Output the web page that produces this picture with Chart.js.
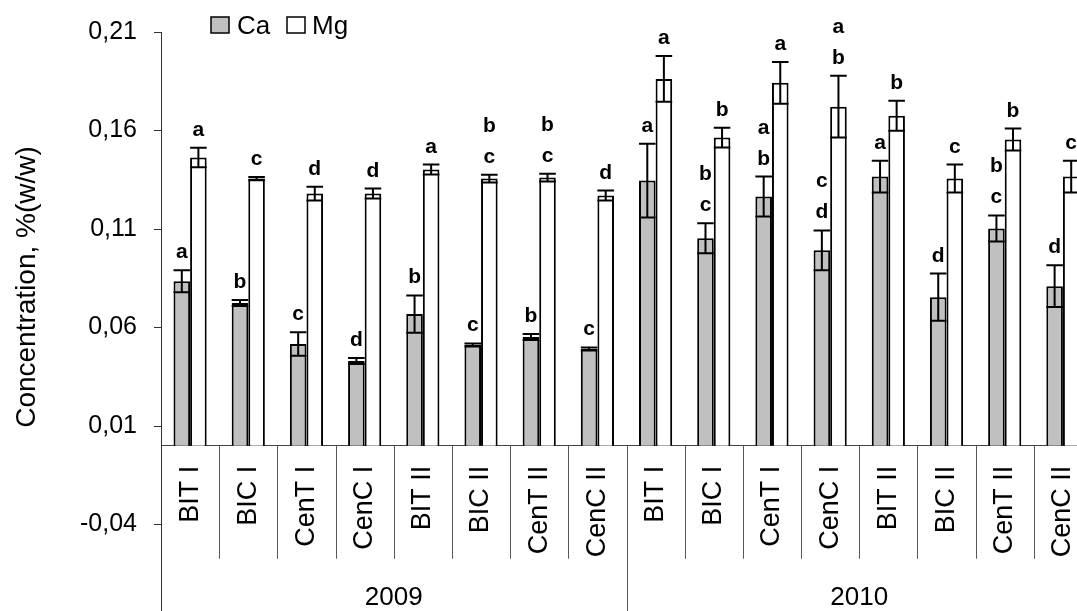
<!DOCTYPE html>
<html>
<head>
<meta charset="utf-8">
<script src="https://cdn.jsdelivr.net/npm/chart.js@4.4.1/dist/chart.umd.min.js"></script>
<style>
  html, body { margin: 0; padding: 0; background: #fff; overflow: hidden; }
</style>
</head>
<body>
<canvas id="myChart" width="1100" height="655"></canvas>
<script>
const categories = [
    'BIT I', 'BIC I', 'CenT I', 'CenC I', 'BIT II', 'BIC II', 'CenT II', 'CenC II',
    'BIT I', 'BIC I', 'CenT I', 'CenC I', 'BIT II', 'BIC II', 'CenT II', 'CenC II',
];
const years = ['2009', '2010'];

const caValues = [0.0835, 0.0724, 0.0516, 0.0430, 0.0668, 0.0511, 0.0552, 0.0491,
                  0.1346, 0.1053, 0.1265, 0.0992, 0.1366, 0.0754, 0.1103, 0.0810];
const caErrors = [0.0056, 0.0015, 0.0060, 0.0015, 0.0095, 0.0008, 0.0015, 0.0008,
                  0.0187, 0.0076, 0.0101, 0.0101, 0.0081, 0.0120, 0.0066, 0.0106];
const caLetters = ['a', 'b', 'c', 'd', 'b', 'c', 'b', 'c',
                   'a', 'bc', 'ab', 'cd', 'a', 'd', 'bc', 'd'];

const mgValues = [0.1463, 0.1356, 0.1280, 0.1280, 0.1402, 0.1356, 0.1361, 0.1270,
                  0.1862, 0.1564, 0.1842, 0.1721, 0.1675, 0.1356, 0.1554, 0.1366];
const mgErrors = [0.0050, 0.0008, 0.0035, 0.0025, 0.0025, 0.0020, 0.0020, 0.0025,
                  0.0116, 0.0050, 0.0106, 0.0157, 0.0076, 0.0071, 0.0056, 0.0081];
const mgLetters = ['a', 'c', 'd', 'd', 'a', 'bc', 'bc', 'd',
                   'a', 'b', 'a', 'ab', 'b', 'c', 'b', 'c'];

const FONT = "'Liberation Sans', Arial, sans-serif";
const CA_COLOR = '#c0c0c0';
const MG_COLOR = '#ffffff';

// error bars, significance letters, separators, years, legend, axis title
const extras = {
    id: 'extras',
    afterDatasetsDraw(chart) {
        const ctx = chart.ctx;
        const y = chart.scales.y;
        const sets = [
            {vals: caValues, errs: caErrors, letters: caLetters},
            {vals: mgValues, errs: mgErrors, letters: mgLetters},
        ];
        ctx.save();
        sets.forEach((s, d) => {
            const meta = chart.getDatasetMeta(d);
            meta.data.forEach((bar, i) => {
                const cx = bar.x;
                const half = bar.width / 2;
                const top = y.getPixelForValue(s.vals[i] + s.errs[i]);
                const bot = y.getPixelForValue(s.vals[i] - s.errs[i]);
                ctx.strokeStyle = '#000';
                ctx.lineWidth = 2;
                ctx.beginPath();
                ctx.moveTo(cx, top); ctx.lineTo(cx, bot);
                ctx.moveTo(cx - half, top); ctx.lineTo(cx + half, top);
                ctx.moveTo(cx - half, bot); ctx.lineTo(cx + half, bot);
                ctx.stroke();

                ctx.fillStyle = '#000';
                ctx.font = 'bold 21px ' + FONT;
                ctx.textAlign = 'center';
                ctx.textBaseline = 'alphabetic';
                const chars = s.letters[i].split('').reverse();
                chars.forEach((c, k) => {
                    ctx.fillText(c, cx, top - 12 - k * 31);
                });
            });
        });
        ctx.restore();
    },
    afterDraw(chart) {
        const ctx = chart.ctx;
        const x = chart.scales.x;
        const y = chart.scales.y;
        const y0 = y.getPixelForValue(0);
        const n = categories.length;
        const step = x.getPixelForValue(1) - x.getPixelForValue(0);
        ctx.save();
        ctx.strokeStyle = '#555';
        ctx.lineWidth = 1;
        for (let i = 1; i < n; i++) {
            const px = Math.round(x.getPixelForValue(i) - step / 2) + 0.5;
            ctx.beginPath();
            ctx.moveTo(px, y0);
            ctx.lineTo(px, i === n / 2 ? chart.height : y0 + 113);
            ctx.stroke();
        }

        ctx.fillStyle = '#000';
        ctx.font = '26px ' + FONT;
        ctx.textAlign = 'center';
        ctx.textBaseline = 'alphabetic';
        years.forEach((yr, k) => {
            const a = x.getPixelForValue(k * n / 2) - step / 2;
            const b = x.getPixelForValue((k + 1) * n / 2 - 1) + step / 2;
            ctx.fillText(yr, (a + b) / 2, 605);
        });

        // legend
        ctx.lineWidth = 1.5;
        ctx.strokeStyle = '#000';
        ctx.fillStyle = CA_COLOR;
        ctx.fillRect(211, 17, 18, 16);
        ctx.strokeRect(211, 17, 18, 16);
        ctx.fillStyle = MG_COLOR;
        ctx.fillRect(287, 17, 18, 16);
        ctx.strokeRect(287, 17, 18, 16);
        ctx.fillStyle = '#000';
        ctx.textAlign = 'left';
        ctx.fillText('Ca', 237, 34);
        ctx.fillText('Mg', 312, 34);

        // y title
        ctx.translate(27, 287);
        ctx.rotate(-Math.PI / 2);
        ctx.font = '28px ' + FONT;
        ctx.textAlign = 'center';
        ctx.textBaseline = 'middle';
        ctx.fillText('Concentration, %(w/w)', 0, 0);
        ctx.restore();
    }
};

const myChart = new Chart(document.getElementById('myChart'), {
    type: 'bar',
    data: {
        labels: categories,
        datasets: [
            {
                label: 'Ca',
                data: caValues,
                backgroundColor: CA_COLOR,
                borderColor: '#000',
                borderWidth: 2,
                barPercentage: 1,
                categoryPercentage: 0.57,
            },
            {
                label: 'Mg',
                data: mgValues,
                backgroundColor: MG_COLOR,
                borderColor: '#000',
                borderWidth: 2,
                barPercentage: 1,
                categoryPercentage: 0.57,
            },
        ]
    },
    options: {
        responsive: false,
        animation: false,
        devicePixelRatio: 1,
        layout: { padding: { top: 27, right: 8, bottom: 18, left: 0 } },
        plugins: {
            legend: { display: false },
            tooltip: { enabled: false },
        },
        scales: {
            x: {
                type: 'category',
                position: { y: 0 },
                offset: true,
                grid: { display: false, drawTicks: false },
                border: { color: '#444', width: 1 },
                ticks: {
                    minRotation: 90,
                    maxRotation: 90,
                    autoSkip: false,
                    padding: 20,
                    color: '#000',
                    font: { family: FONT, size: 27 },
                },
                afterFit(s) { s.paddingLeft = 0; s.paddingRight = 0; },
            },
            y: {
                min: -0.09,
                max: 0.21,
                ticks: {
                    stepSize: 0.05,
                    padding: 17,
                    color: '#000',
                    font: { family: FONT, size: 25 },
                    callback: v => v.toFixed(2).replace('.', ','),
                },
                grid: { drawOnChartArea: false, tickLength: 7, color: '#333' },
                border: { color: '#333', width: 1 },
                afterFit(s) { s.width = 161; },
            },
        },
    },
    plugins: [extras],
});
</script>
</body>
</html>
